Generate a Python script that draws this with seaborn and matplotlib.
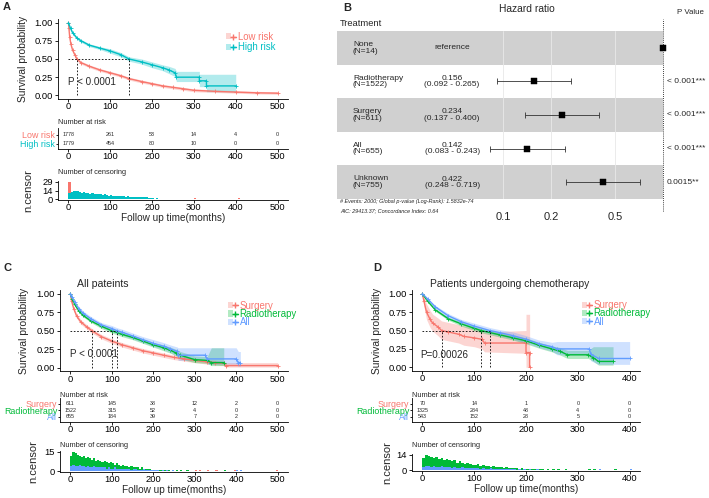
import numpy as np
import pandas as pd
import matplotlib
matplotlib.use('Agg')
import matplotlib.pyplot as plt
import seaborn as sns
from matplotlib import font_manager as fm
from matplotlib.patches import Patch
from matplotlib.lines import Line2D
from matplotlib.legend_handler import HandlerTuple

sns.set_theme(style='ticks')
_names = {f.name for f in fm.fontManager.ttflist}
if 'Liberation Sans Narrow' in _names:
    FAMILY, K = 'Liberation Sans Narrow', 1.0
else:
    FAMILY, K = 'Liberation Sans', 0.84
plt.rcParams['font.family'] = [FAMILY, 'Liberation Sans', 'DejaVu Sans']
plt.rcParams['axes.edgecolor'] = 'black'
plt.rcParams['axes.linewidth'] = 0.6


def fs(x):
    return x * K


RED, CYAN, GREEN, BLUE = '#F8766D', '#00BFC4', '#00BA38', '#619CFF'

# ---------------- Panel A data ----------------
A_low_time = [0, 1, 3, 6, 10, 15, 20, 30, 50, 75, 100, 125, 145, 175, 200, 225, 250, 275, 300, 350, 400, 450, 500]
A_low_surv = [1.0, 0.93, 0.80, 0.70, 0.62, 0.56, 0.50, 0.45, 0.40, 0.35, 0.31, 0.27, 0.23, 0.19, 0.16, 0.13, 0.11, 0.09, 0.07, 0.055, 0.045, 0.035, 0.03]
A_low_lower = [1.0, 0.92, 0.78, 0.68, 0.60, 0.54, 0.48, 0.43, 0.38, 0.33, 0.29, 0.25, 0.21, 0.17, 0.14, 0.11, 0.09, 0.07, 0.05, 0.04, 0.03, 0.02, 0.015]
A_low_upper = [1.0, 0.94, 0.82, 0.72, 0.64, 0.58, 0.52, 0.47, 0.42, 0.37, 0.33, 0.29, 0.25, 0.21, 0.18, 0.15, 0.13, 0.11, 0.09, 0.075, 0.065, 0.055, 0.05]

A_high_time = [0, 5, 10, 20, 30, 50, 75, 100, 125, 145, 175, 200, 225, 240, 255, 258, 313, 313, 330, 330, 400]
A_high_surv = [1.0, 0.92, 0.86, 0.79, 0.75, 0.69, 0.65, 0.61, 0.56, 0.50, 0.46, 0.42, 0.38, 0.35, 0.31, 0.25, 0.25, 0.20, 0.20, 0.13, 0.13]
A_high_lower = [1.0, 0.91, 0.84, 0.77, 0.73, 0.67, 0.63, 0.58, 0.53, 0.47, 0.43, 0.38, 0.34, 0.30, 0.26, 0.19, 0.19, 0.12, 0.12, 0.05, 0.05]
A_high_upper = [1.0, 0.93, 0.88, 0.81, 0.77, 0.71, 0.67, 0.64, 0.59, 0.53, 0.50, 0.46, 0.42, 0.40, 0.37, 0.33, 0.33, 0.29, 0.29, 0.29, 0.29]

A_groups = ['Low risk', 'High risk']
A_risk_times = [0, 100, 200, 300, 400, 500]
A_risk_low = [1778, 261, 53, 14, 4, 0]
A_risk_high = [1779, 454, 80, 10, 0, 0]

A_cens_high_t = list(range(0, 300, 5)) + [400]
A_cens_high_n = [10, 12, 13, 14, 13, 12, 11, 12, 10, 11,
                 9, 10, 9, 8, 9, 8, 7, 8, 7, 6,
                 7, 6, 6, 5, 6, 5, 5, 4, 5, 4,
                 4, 4, 3, 4, 3, 3, 3, 3, 2, 2,
                 2, 1, 2, 1, 1, 1, 1, 1, 1, 1,
                 1, 1, 0, 1, 0, 1, 0, 0, 1, 0, 1]
A_cens_low_t = [0, 255, 280, 300, 320, 350, 405, 495]
A_cens_low_n = [29, 1, 1, 2, 1, 1, 2, 1]

# ---------------- Panel B data ----------------
B_names = ['None', 'Radiotherapy', 'Surgery', 'All', 'Unknown']
B_n = [14, 1522, 611, 655, 755]
B_hr = [1.0, 0.156, 0.234, 0.142, 0.422]
B_lo = [np.nan, 0.092, 0.137, 0.083, 0.248]
B_hi = [np.nan, 0.265, 0.400, 0.243, 0.719]
B_p = ['', '< 0.001***', '< 0.001***', '< 0.001***', '0.0015**']
B_ticks = [0.1, 0.2, 0.5]

# ---------------- Panel C data ----------------
C_sur_time = [0, 3, 8, 15, 25, 40, 52, 75, 100, 125, 150, 175, 200, 225, 250, 275, 300, 330, 350, 370, 375, 500]
C_sur_surv = [1.0, 0.9, 0.8, 0.7, 0.62, 0.55, 0.50, 0.42, 0.36, 0.31, 0.27, 0.23, 0.20, 0.17, 0.14, 0.12, 0.10, 0.08, 0.07, 0.06, 0.03, 0.03]
C_sur_lower = [1.0, 0.88, 0.77, 0.67, 0.59, 0.52, 0.47, 0.39, 0.33, 0.28, 0.24, 0.20, 0.17, 0.14, 0.11, 0.09, 0.07, 0.05, 0.04, 0.03, 0.01, 0.01]
C_sur_upper = [1.0, 0.92, 0.83, 0.73, 0.65, 0.58, 0.53, 0.45, 0.39, 0.34, 0.30, 0.26, 0.23, 0.20, 0.17, 0.15, 0.13, 0.11, 0.10, 0.09, 0.07, 0.07]

C_rad_time = [0, 5, 10, 20, 30, 50, 75, 100, 125, 150, 175, 200, 225, 240, 255, 265, 300, 330, 340, 370]
C_rad_surv = [1.0, 0.93, 0.86, 0.77, 0.71, 0.63, 0.56, 0.50, 0.45, 0.41, 0.36, 0.31, 0.27, 0.24, 0.20, 0.17, 0.11, 0.10, 0.07, 0.07]
C_rad_lower = [1.0, 0.92, 0.84, 0.75, 0.69, 0.61, 0.53, 0.47, 0.42, 0.38, 0.33, 0.28, 0.23, 0.20, 0.16, 0.12, 0.07, 0.06, 0.03, 0.03]
C_rad_upper = [1.0, 0.94, 0.88, 0.79, 0.73, 0.65, 0.59, 0.53, 0.48, 0.44, 0.39, 0.34, 0.31, 0.28, 0.25, 0.22, 0.16, 0.15, 0.27, 0.27]

C_all_time = [0, 5, 10, 20, 30, 50, 75, 100, 113, 125, 150, 175, 200, 225, 240, 258, 260, 325, 330, 400, 405, 410]
C_all_surv = [1.0, 0.95, 0.89, 0.80, 0.74, 0.66, 0.58, 0.53, 0.50, 0.48, 0.43, 0.38, 0.33, 0.29, 0.26, 0.22, 0.17, 0.17, 0.12, 0.12, 0.07, 0.07]
C_all_lower = [1.0, 0.94, 0.87, 0.78, 0.72, 0.63, 0.55, 0.49, 0.46, 0.44, 0.39, 0.34, 0.29, 0.25, 0.21, 0.16, 0.10, 0.10, 0.05, 0.05, 0.02, 0.02]
C_all_upper = [1.0, 0.96, 0.91, 0.83, 0.77, 0.69, 0.61, 0.57, 0.54, 0.52, 0.47, 0.42, 0.38, 0.34, 0.31, 0.28, 0.27, 0.27, 0.27, 0.27, 0.22, 0.22]

C_groups = ['Surgery', 'Radiotherapy', 'All']
C_risk_times = [0, 100, 200, 300, 400, 500]
C_risk_sur = [611, 145, 38, 12, 2, 0]
C_risk_rad = [1522, 315, 52, 4, 0, 0]
C_risk_all = [655, 184, 39, 7, 2, 0]

C_cens_rad_t = list(range(0, 300, 5)) + [370]
C_cens_rad_n = [12, 15, 14, 13, 12, 11, 12, 10, 11, 10,
                9, 10, 8, 9, 8, 7, 8, 7, 6, 7,
                6, 5, 6, 5, 4, 5, 4, 4, 3, 4,
                3, 3, 3, 2, 3, 2, 2, 2, 2, 1,
                1, 1, 1, 1, 1, 1, 0, 1, 0, 1,
                0, 1, 0, 1, 0, 0, 1, 0, 0, 0, 1]
C_cens_all_t = list(range(0, 250, 5)) + [400, 410]
C_cens_all_n = [4, 5, 4, 4, 5, 4, 4, 3, 4, 3,
                3, 4, 3, 3, 3, 3, 3, 2, 3, 2,
                2, 3, 2, 2, 2, 2, 2, 2, 2, 1,
                2, 2, 1, 1, 1, 2, 1, 1, 1, 1,
                1, 1, 1, 0, 1, 0, 1, 0, 0, 1, 1, 1]
C_cens_sur_t = [300, 310, 330, 350, 395, 495]
C_cens_sur_n = [1, 1, 1, 1, 1, 1]

# ---------------- Panel D data ----------------
D_sur_time = [0, 3, 8, 15, 20, 30, 37, 50, 70, 80, 100, 115, 120, 200, 200, 207, 207]
D_sur_surv = [1.0, 0.9, 0.75, 0.65, 0.60, 0.55, 0.50, 0.48, 0.45, 0.42, 0.40, 0.38, 0.33, 0.33, 0.20, 0.20, 0.0]
D_sur_lower = [1.0, 0.83, 0.65, 0.54, 0.49, 0.43, 0.38, 0.36, 0.33, 0.30, 0.28, 0.25, 0.21, 0.19, 0.0, 0.0, 0.0]
D_sur_upper = [1.0, 0.97, 0.86, 0.77, 0.72, 0.67, 0.63, 0.61, 0.58, 0.56, 0.54, 0.52, 0.48, 0.50, 0.72, 0.72, 0.0]

D_rad_time = [0, 10, 25, 50, 75, 100, 113, 150, 175, 200, 225, 250, 265, 280, 320, 330, 340, 368]
D_rad_surv = [1.0, 0.90, 0.78, 0.66, 0.59, 0.53, 0.50, 0.44, 0.40, 0.36, 0.30, 0.25, 0.22, 0.17, 0.17, 0.13, 0.08, 0.08]
D_rad_lower = [1.0, 0.89, 0.76, 0.64, 0.56, 0.50, 0.47, 0.41, 0.37, 0.32, 0.26, 0.21, 0.17, 0.12, 0.12, 0.08, 0.03, 0.03]
D_rad_upper = [1.0, 0.91, 0.80, 0.68, 0.62, 0.56, 0.53, 0.47, 0.43, 0.40, 0.34, 0.29, 0.27, 0.23, 0.23, 0.28, 0.28, 0.28]

D_all_time = [0, 10, 25, 50, 75, 100, 130, 150, 175, 200, 225, 250, 260, 322, 325, 340, 400]
D_all_surv = [1.0, 0.93, 0.82, 0.70, 0.62, 0.56, 0.50, 0.47, 0.43, 0.38, 0.32, 0.28, 0.25, 0.25, 0.18, 0.12, 0.12]
D_all_lower = [1.0, 0.92, 0.80, 0.67, 0.59, 0.52, 0.46, 0.43, 0.38, 0.33, 0.27, 0.22, 0.17, 0.17, 0.09, 0.04, 0.04]
D_all_upper = [1.0, 0.94, 0.84, 0.73, 0.65, 0.60, 0.54, 0.51, 0.48, 0.43, 0.37, 0.34, 0.35, 0.35, 0.35, 0.35, 0.35]

D_risk_times = [0, 100, 200, 300, 400]
D_risk_sur = [70, 14, 1, 0, 0]
D_risk_rad = [1325, 284, 48, 4, 0]
D_risk_all = [543, 152, 28, 5, 0]

D_cens_rad_t = list(range(0, 300, 5)) + [320, 330, 370]
D_cens_rad_n = [11, 14, 13, 12, 11, 12, 10, 11, 9, 10,
                9, 8, 9, 7, 8, 7, 6, 7, 6, 5,
                5, 6, 4, 5, 4, 4, 3, 4, 3, 3,
                3, 2, 3, 2, 2, 2, 2, 1, 2, 1,
                1, 1, 1, 1, 1, 1, 1, 0, 1, 0,
                1, 0, 1, 0, 0, 1, 0, 0, 0, 0, 1, 1, 1]
D_cens_all_t = list(range(0, 230, 5)) + [340, 400]
D_cens_all_n = [3, 4, 4, 3, 4, 3, 3, 4, 3, 3,
                3, 2, 3, 2, 2, 3, 2, 2, 2, 2,
                2, 2, 1, 2, 1, 1, 2, 1, 1, 1,
                1, 1, 1, 1, 1, 1, 0, 1, 0, 1,
                0, 1, 0, 0, 1, 0, 1, 1]
D_cens_sur_t = [5, 15, 40]
D_cens_sur_n = [2, 1, 1]

# ---------------- figure helpers ----------------
W, H = 709, 498
fig = plt.figure(figsize=(W / 100, H / 100), dpi=100)


def add_ax(l, t, r, b):
    return fig.add_axes([l / W, 1 - b / H, (r - l) / W, (b - t) / H])


def ftext(x, y, s, size, **kw):
    fig.text(x / W, 1 - y / H, s, fontsize=fs(size), **kw)


def style_ticks(ax, size=8):
    ax.tick_params(labelsize=fs(size), length=2, width=0.6, colors='black')
    ax.tick_params(axis='x', pad=0.5)
    ax.tick_params(axis='y', pad=1.5)
    sns.despine(ax=ax)


def surv_panel(ax, curves, xlim, xticks, ptext, pxy, leg_anchor, legspace):
    meds = []
    for label, t, s, lo, hi, col in curves:
        ax.fill_between(t, lo, hi, color=col, alpha=0.3, lw=0)
        df = pd.DataFrame({'time': t, 'surv': s})
        sns.lineplot(data=df, x='time', y='surv', color=col, lw=1.0, estimator=None,
                     sort=False, ax=ax, marker='+', markersize=3, markeredgewidth=0.6,
                     markeredgecolor=col)
        arr = np.asarray(s)
        meds.append(np.asarray(t)[np.argmax(arr <= 0.5)])
    ax.plot([0, max(meds)], [0.5, 0.5], ls=(0, (2, 2)), color='black', lw=0.6)
    for m in meds:
        ax.plot([m, m], [0, 0.5], ls=(0, (2, 2)), color='black', lw=0.6)
    ax.text(pxy[0], pxy[1], ptext, fontsize=fs(8.5), va='center', ha='left')
    ax.set_xlim(*xlim)
    ax.set_ylim(-0.05, 1.05)
    ax.set_xticks(xticks)
    ax.set_yticks([0, 0.25, 0.5, 0.75, 1.0])
    ax.set_yticklabels(['0.00', '0.25', '0.50', '0.75', '1.00'])
    ax.set_xlabel('')
    ax.set_ylabel('Survival probability', fontsize=fs(8.8))
    style_ticks(ax)
    handles = [(Patch(facecolor=c[5], alpha=0.3, edgecolor='none'),
                Line2D([0], [0], color=c[5], marker='+', markersize=4, lw=1))
               for c in curves]
    leg = ax.legend(handles, [c[0] for c in curves], loc='upper left',
                    bbox_to_anchor=leg_anchor, frameon=False, fontsize=fs(8.3),
                    handlelength=1.0, handleheight=0.6, handletextpad=0.2,
                    labelspacing=legspace, borderaxespad=0, borderpad=0,
                    handler_map={tuple: HandlerTuple(ndivide=None, pad=0)})
    for txt, c in zip(leg.get_texts(), curves):
        txt.set_color(c[5])


def risk_panel(ax, groups, colors, tables, times, xlim, ylim):
    for i, row in enumerate(tables):
        for t, v in zip(times, row):
            ax.text(t, i, str(v), fontsize=fs(4.6), ha='center', va='center')
    ax.set_xlim(*xlim)
    ax.set_ylim(*ylim)
    ax.set_yticks(range(len(groups)))
    ax.set_yticklabels(groups)
    ax.set_xticks(times)
    style_ticks(ax)
    ax.tick_params(axis='y', labelsize=fs(7.6), length=1.5, pad=0.5)
    for lab, col in zip(ax.get_yticklabels(), colors):
        lab.set_color(col)


def cens_panel(ax, series, xlim, xticks, yticks, ymax):
    for t, n, col in series:
        df = pd.DataFrame({'t': np.asarray(t, dtype=float), 'n': np.asarray(n, dtype=float)})
        sns.histplot(data=df, x='t', weights='n', binwidth=5, binrange=(0, 505),
                     color=col, alpha=1, linewidth=0, ax=ax)
    ax.set_xlim(*xlim)
    ax.set_ylim(-0.05 * ymax, 1.05 * ymax)
    ax.set_xticks(xticks)
    ax.set_yticks(yticks)
    ax.set_ylabel('n.censor', fontsize=fs(9.5))
    ax.set_xlabel('Follow up time(months)', fontsize=fs(8.6), labelpad=0.5)
    style_ticks(ax)


# ---------------- Panel A ----------------
axA = add_ax(58, 19, 288, 99)
surv_panel(axA, [('Low risk', A_low_time, A_low_surv, A_low_lower, A_low_upper, RED),
                 ('High risk', A_high_time, A_high_surv, A_high_lower, A_high_upper, CYAN)],
           (-25, 525), [0, 100, 200, 300, 400, 500], 'P < 0.0001', (0, 0.18),
           (0.73, 0.84), 0.02)
axA.yaxis.set_label_coords((28 - 58) / 230, 0.5)

axAr = add_ax(58, 128, 288, 149)
risk_panel(axAr, A_groups, [RED, CYAN], [A_risk_low, A_risk_high], A_risk_times,
           (-25, 525), (1.556, -0.778))
ftext(58, 123, 'Number at risk', 6.3, va='center')

axAc = add_ax(58, 181, 288, 200)
cens_panel(axAc, [(A_cens_low_t, A_cens_low_n, RED), (A_cens_high_t, A_cens_high_n, CYAN)],
           (-25, 525), [0, 100, 200, 300, 400, 500], [0, 14, 29], 29)
axAc.yaxis.set_label_coords((33 - 58) / 230, 0.5)
ftext(58, 173, 'Number of censoring', 6.3, va='center')

# ---------------- Panel B ----------------
axB = add_ax(337, 31, 663, 199)
axB.set_xscale('log')
axB.set_xlim(0.00917, 1.0)
axB.set_ylim(4.5, -0.5)
for i in range(0, len(B_names), 2):
    axB.axhspan(i - 0.5, i + 0.5, color='#D0D0D0', lw=0, zorder=0)
for tk in B_ticks:
    axB.axvline(tk, color='#E8E8E8', lw=0.6, zorder=1)
axB.axvline(1.0, color='black', lw=0.6, ls=(0, (1, 1.5)), zorder=1, clip_on=False,
            ymin=-0.07, ymax=1.07)
rows = np.arange(len(B_names))
lo = np.array(B_lo)
hi = np.array(B_hi)
hr = np.array(B_hr)
mask = ~np.isnan(lo)
axB.errorbar(hr[mask], rows[mask], xerr=[hr[mask] - lo[mask], hi[mask] - hr[mask]],
             fmt='none', ecolor='#333333', elinewidth=0.6, capsize=2, capthick=0.6, zorder=2)
sns.scatterplot(x=hr, y=rows, marker='s', color='black', s=16, edgecolor='black',
                ax=axB, zorder=3, clip_on=False)
axB.set_xticks(B_ticks)
axB.set_xticklabels(['0.1', '0.2', '0.5'])
axB.xaxis.set_minor_locator(matplotlib.ticker.NullLocator())
axB.tick_params(axis='x', length=0, pad=9, labelsize=fs(9.5))
axB.set_yticks([])
for s in axB.spines.values():
    s.set_visible(False)
axB.set_xlabel('')
axB.set_ylabel('')
tr = matplotlib.transforms.blended_transform_factory(axB.transAxes, axB.transData)
for i in rows:
    axB.text(0.049, i, f'{B_names[i]}\n(N={B_n[i]})', transform=tr, fontsize=fs(7.2),
             ha='left', va='center', linespacing=0.9)
    if np.isnan(lo[i]):
        txt = 'reference'
    else:
        txt = f'{B_hr[i]:.3f}\n({B_lo[i]:.3f} - {B_hi[i]:.3f})'
    axB.text(0.353, i, txt, transform=tr, fontsize=fs(7.2), ha='center', va='center',
             linespacing=0.85)
    axB.text(1.012, i, B_p[i], transform=tr, fontsize=fs(7.2), ha='left', va='center')
ftext(527, 9, 'Hazard ratio', 8.8, ha='center', va='center')
ftext(690, 12, 'P Value', 6.8, ha='center', va='center')
ftext(340, 23, 'Treatment', 8, ha='left', va='center')
ftext(340, 202, '# Events: 2000; Global p-value (Log-Rank): 1.5832e-74', 4.7,
      style='italic', va='center')
ftext(340, 211, 'AIC: 29413.37; Concordance Index: 0.64', 4.7,
      style='italic', va='center')

# ---------------- Panel C ----------------
axC = add_ax(60, 290, 288, 371.5)
surv_panel(axC, [('Surgery', C_sur_time, C_sur_surv, C_sur_lower, C_sur_upper, RED),
                 ('Radiotherapy', C_rad_time, C_rad_surv, C_rad_lower, C_rad_upper, GREEN),
                 ('All', C_all_time, C_all_surv, C_all_lower, C_all_upper, BLUE)],
           (-25, 525), [0, 100, 200, 300, 400, 500], 'P < 0.0001', (0, 0.19),
           (0.737, 0.87), -0.18)
axC.yaxis.set_label_coords((29 - 60) / 228, 0.5)
ftext(77, 284, 'All pateints', 9, va='center')

axCr = add_ax(60, 398, 288, 422)
risk_panel(axCr, C_groups, [RED, GREEN, BLUE], [C_risk_sur, C_risk_rad, C_risk_all],
           C_risk_times, (-25, 525), (2.77, -0.92))
ftext(60, 395, 'Number at risk', 6.3, va='center')

axCc = add_ax(60, 451, 288, 472)
cens_panel(axCc, [(C_cens_sur_t, C_cens_sur_n, RED), (C_cens_rad_t, C_cens_rad_n, GREEN),
                  (C_cens_all_t, C_cens_all_n, BLUE)],
           (-25, 525), [0, 100, 200, 300, 400, 500], [0, 15], 15)
axCc.yaxis.set_label_coords((38 - 60) / 228, 0.5)
ftext(60, 445, 'Number of censoring', 6.3, va='center')

# ---------------- Panel D ----------------
axD = add_ax(412, 290, 640, 371)
surv_panel(axD, [('Surgery', D_sur_time, D_sur_surv, D_sur_lower, D_sur_upper, RED),
                 ('Radiotherapy', D_rad_time, D_rad_surv, D_rad_lower, D_rad_upper, GREEN),
                 ('All', D_all_time, D_all_surv, D_all_lower, D_all_upper, BLUE)],
           (-20, 420), [0, 100, 200, 300, 400], 'P=0.00026', (-4, 0.17),
           (0.746, 0.875), -0.18)
axD.yaxis.set_label_coords((382 - 412) / 228, 0.5)
ftext(430, 284, 'Patients undergoing chemotherapy', 8.8, va='center')

axDr = add_ax(412, 398, 640, 422)
risk_panel(axDr, C_groups, [RED, GREEN, BLUE], [D_risk_sur, D_risk_rad, D_risk_all],
           D_risk_times, (-20, 420), (2.77, -0.92))
ftext(412, 395, 'Number at risk', 6.3, va='center')

axDc = add_ax(412, 454, 640, 471)
cens_panel(axDc, [(D_cens_sur_t, D_cens_sur_n, RED), (D_cens_rad_t, D_cens_rad_n, GREEN),
                  (D_cens_all_t, D_cens_all_n, BLUE)],
           (-20, 420), [0, 100, 200, 300, 400], [0, 14], 14)
axDc.yaxis.set_label_coords((392 - 412) / 228, 0.5)
ftext(412, 445, 'Number of censoring', 6.3, va='center')

# ---------------- Panel letters ----------------
for lab, x, y in [('A', 3, 7), ('B', 343, 8), ('C', 3, 268), ('D', 373, 268)]:
    ftext(x, y, lab, 9.5, fontweight='bold', va='center')

fig.savefig('out.png', dpi=100)
